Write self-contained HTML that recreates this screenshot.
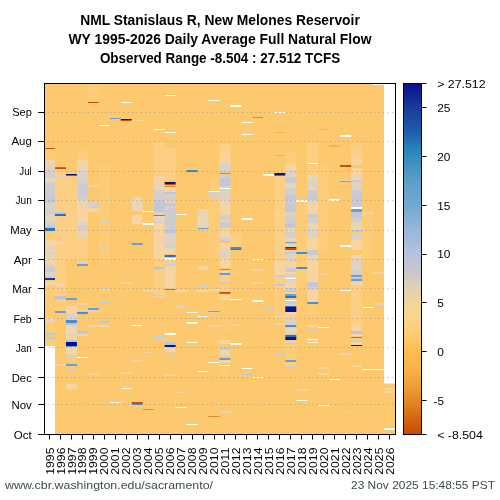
<!DOCTYPE html><html><head><meta charset="utf-8"><style>html,body{margin:0;padding:0;background:#fff;}svg{display:block;will-change:transform;}text{font-family:"Liberation Sans",sans-serif;}</style></head><body>
<svg width="500" height="500" viewBox="0 0 500 500">
<defs><linearGradient id="cb" x1="0" y1="0" x2="0" y2="1"><stop offset="0.0000" stop-color="#0a0f8c"/><stop offset="0.0670" stop-color="#1a3a9a"/><stop offset="0.1325" stop-color="#1e5aa8"/><stop offset="0.1952" stop-color="#2a88bc"/><stop offset="0.2749" stop-color="#5a9ec8"/><stop offset="0.3462" stop-color="#72a8d0"/><stop offset="0.4174" stop-color="#98b6d8"/><stop offset="0.4801" stop-color="#b2c2e0"/><stop offset="0.5313" stop-color="#c8c6cc"/><stop offset="0.5741" stop-color="#dccfb8"/><stop offset="0.6225" stop-color="#f3d49a"/><stop offset="0.6681" stop-color="#fcd48e"/><stop offset="0.7080" stop-color="#fdcd78"/><stop offset="0.7593" stop-color="#fdbe50"/><stop offset="0.8162" stop-color="#f9b244"/><stop offset="0.8590" stop-color="#f0a038"/><stop offset="0.9017" stop-color="#e48a26"/><stop offset="0.9359" stop-color="#da7218"/><stop offset="0.9729" stop-color="#cf5a0a"/><stop offset="1.0000" stop-color="#c64a04"/></linearGradient></defs>
<rect width="500" height="500" fill="#fff"/>
<text x="220" y="25" text-anchor="middle" font-size="14" font-weight="bold" fill="#000" textLength="279.6" lengthAdjust="spacingAndGlyphs">NML Stanislaus R, New Melones Reservoir</text>
<text x="220" y="44" text-anchor="middle" font-size="14" font-weight="bold" fill="#000" textLength="303" lengthAdjust="spacingAndGlyphs">WY 1995-2026 Daily Average Full Natural Flow</text>
<text x="220" y="63" text-anchor="middle" font-size="14" font-weight="bold" fill="#000" textLength="240.2" lengthAdjust="spacingAndGlyphs">Observed Range -8.504 : 27.512 TCFS</text>
<rect x="44.0" y="83.5" width="351.0" height="351.0" fill="#fdc96f"/>
<rect x="44.00" y="148" width="10.97" height="12.00" fill="url(#g0)"/>
<rect x="44.00" y="160" width="10.97" height="10.00" fill="url(#g1)"/>
<rect x="44.00" y="170" width="10.97" height="15.00" fill="#d3cfcb"/>
<rect x="44.00" y="178" width="10.97" height="4.00" fill="#ead5b4"/>
<rect x="44.00" y="185" width="10.97" height="12.00" fill="#cccbd2"/>
<rect x="44.00" y="197" width="10.97" height="6.00" fill="#c2c8da"/>
<rect x="44.00" y="203" width="10.97" height="5.00" fill="#ddd2c4"/>
<rect x="44.00" y="208" width="10.97" height="7.00" fill="#d3cfcb"/>
<rect x="44.00" y="215" width="10.97" height="7.00" fill="#ead5b4"/>
<rect x="44.00" y="222" width="10.97" height="4.00" fill="#d3cfcb"/>
<rect x="44.00" y="226" width="10.97" height="2.50" fill="#b6c6de"/>
<rect x="44.00" y="231.5" width="10.97" height="8.50" fill="#fccc78"/>
<rect x="44.00" y="240" width="10.97" height="6.00" fill="#f8d5a0"/>
<rect x="44.00" y="246" width="10.97" height="4.00" fill="#ddd2c4"/>
<rect x="44.00" y="250" width="10.97" height="2.00" fill="#f8d5a0"/>
<rect x="44.00" y="252" width="10.97" height="3.00" fill="#ddd2c4"/>
<rect x="44.00" y="255" width="10.97" height="7.00" fill="#ead5b4"/>
<rect x="44.00" y="262" width="10.97" height="3.00" fill="#f8d5a0"/>
<rect x="44.00" y="265" width="10.97" height="3.00" fill="#d3cfcb"/>
<rect x="44.00" y="268" width="10.97" height="4.00" fill="#cccbd2"/>
<rect x="44.00" y="272" width="10.97" height="4.00" fill="#ddd2c4"/>
<rect x="44.00" y="276" width="10.97" height="2.50" fill="#d3cfcb"/>
<rect x="44.00" y="281" width="10.97" height="4.00" fill="#f8d5a0"/>
<rect x="44.00" y="285" width="10.97" height="15.00" fill="#fccc78"/>
<rect x="44.00" y="318" width="10.97" height="4.00" fill="#ead5b4"/>
<rect x="44.00" y="322" width="10.97" height="11.00" fill="#fccc78"/>
<rect x="44.00" y="339" width="10.97" height="7.00" fill="#fccc78"/>
<rect x="54.97" y="170" width="10.97" height="42.00" fill="#fccf84"/>
<rect x="54.97" y="216" width="10.97" height="80.00" fill="#fccf84"/>
<rect x="54.97" y="300" width="10.97" height="11.00" fill="#fccc78"/>
<rect x="65.94" y="177" width="10.97" height="83.00" fill="#fccf84"/>
<rect x="65.94" y="306" width="10.97" height="8.00" fill="#f8d5a0"/>
<rect x="65.94" y="314" width="10.97" height="6.00" fill="#ddd2c4"/>
<rect x="65.94" y="325" width="10.97" height="5.00" fill="#ead5b4"/>
<rect x="65.94" y="330" width="10.97" height="10.00" fill="#f8d5a0"/>
<rect x="65.94" y="347" width="10.97" height="8.00" fill="#f8d5a0"/>
<rect x="65.94" y="355" width="10.97" height="7.00" fill="#fccc78"/>
<rect x="65.94" y="384" width="10.97" height="5.00" fill="#f8d5a0"/>
<rect x="76.91" y="150" width="10.97" height="10.00" fill="url(#g2)"/>
<rect x="76.91" y="160" width="10.97" height="10.00" fill="url(#g3)"/>
<rect x="76.91" y="170" width="10.97" height="10.00" fill="#ddd2c4"/>
<rect x="76.91" y="180" width="10.97" height="5.00" fill="#d3cfcb"/>
<rect x="76.91" y="185" width="10.97" height="10.00" fill="#cccbd2"/>
<rect x="76.91" y="195" width="10.97" height="5.00" fill="#d3cfcb"/>
<rect x="76.91" y="200" width="10.97" height="5.00" fill="#ead5b4"/>
<rect x="76.91" y="205" width="10.97" height="17.00" fill="#f8d5a0"/>
<rect x="76.91" y="222" width="10.97" height="4.00" fill="#ddd2c4"/>
<rect x="76.91" y="226" width="10.97" height="4.00" fill="#d3cfcb"/>
<rect x="76.91" y="230" width="10.97" height="6.00" fill="#ead5b4"/>
<rect x="76.91" y="236" width="10.97" height="2.00" fill="#ddd2c4"/>
<rect x="76.91" y="238" width="10.97" height="24.00" fill="#fccf84"/>
<rect x="87.88" y="84" width="10.97" height="16.00" fill="#fccc78"/>
<rect x="98.84" y="165" width="10.97" height="95.00" fill="#fccc78"/>
<rect x="131.75" y="197" width="10.97" height="14.00" fill="#ead5b4"/>
<rect x="131.75" y="215" width="10.97" height="9.00" fill="#f8d5a0"/>
<rect x="153.69" y="143" width="10.97" height="32.00" fill="#fccf84"/>
<rect x="153.69" y="176" width="10.97" height="7.00" fill="#f8d5a0"/>
<rect x="153.69" y="183" width="10.97" height="7.00" fill="#ead5b4"/>
<rect x="153.69" y="190" width="10.97" height="10.00" fill="#d3cfcb"/>
<rect x="153.69" y="200" width="10.97" height="12.00" fill="#c2c8da"/>
<rect x="153.69" y="212" width="10.97" height="3.00" fill="#ddd2c4"/>
<rect x="153.69" y="216" width="10.97" height="6.00" fill="#ead5b4"/>
<rect x="153.69" y="223" width="10.97" height="17.00" fill="#f8d5a0"/>
<rect x="153.69" y="242" width="10.97" height="18.00" fill="#f8d5a0"/>
<rect x="153.69" y="262" width="10.97" height="4.00" fill="#fccf84"/>
<rect x="153.69" y="269" width="10.97" height="26.00" fill="#fccf84"/>
<rect x="153.69" y="336" width="10.97" height="3.50" fill="#d3cfcb"/>
<rect x="164.66" y="148" width="10.97" height="32.00" fill="#fccf84"/>
<rect x="164.66" y="187" width="10.97" height="5.00" fill="#f8d5a0"/>
<rect x="164.66" y="192" width="10.97" height="8.00" fill="#d3cfcb"/>
<rect x="164.66" y="200" width="10.97" height="3.00" fill="#ddd2c4"/>
<rect x="164.66" y="203" width="10.97" height="3.00" fill="#c2c8da"/>
<rect x="164.66" y="206" width="10.97" height="3.00" fill="#d3cfcb"/>
<rect x="164.66" y="209" width="10.97" height="21.00" fill="#cccbd2"/>
<rect x="164.66" y="230" width="10.97" height="3.00" fill="#b6c6de"/>
<rect x="164.66" y="233" width="10.97" height="11.00" fill="#ddd2c4"/>
<rect x="164.66" y="244" width="10.97" height="3.00" fill="#d3cfcb"/>
<rect x="164.66" y="248" width="10.97" height="6.00" fill="#ead5b4"/>
<rect x="164.66" y="257" width="10.97" height="1.00" fill="#d3cfcb"/>
<rect x="164.66" y="261" width="10.97" height="4.00" fill="#ddd2c4"/>
<rect x="164.66" y="266" width="10.97" height="23.00" fill="#f8d5a0"/>
<rect x="164.66" y="342" width="10.97" height="3.00" fill="#b6c6de"/>
<rect x="164.66" y="347" width="10.97" height="5.00" fill="#f8d5a0"/>
<rect x="197.56" y="209" width="10.97" height="19.00" fill="#ead5b4"/>
<rect x="197.56" y="266" width="10.97" height="4.00" fill="#f8d5a0"/>
<rect x="208.53" y="180" width="10.97" height="10.00" fill="#fccc78"/>
<rect x="208.53" y="198" width="10.97" height="62.00" fill="#fccc78"/>
<rect x="219.50" y="144" width="10.97" height="19.00" fill="url(#g4)"/>
<rect x="219.50" y="163" width="10.97" height="7.00" fill="#ddd2c4"/>
<rect x="219.50" y="170" width="10.97" height="3.00" fill="#d3cfcb"/>
<rect x="219.50" y="175" width="10.97" height="3.00" fill="#d3cfcb"/>
<rect x="219.50" y="178" width="10.97" height="8.00" fill="#c2c8da"/>
<rect x="219.50" y="186" width="10.97" height="2.00" fill="#d3cfcb"/>
<rect x="219.50" y="190" width="10.97" height="10.00" fill="#ddd2c4"/>
<rect x="219.50" y="200" width="10.97" height="6.00" fill="#ead5b4"/>
<rect x="219.50" y="206" width="10.97" height="9.00" fill="#f8d5a0"/>
<rect x="219.50" y="215" width="10.97" height="5.00" fill="#d3cfcb"/>
<rect x="219.50" y="220" width="10.97" height="2.00" fill="#ead5b4"/>
<rect x="219.50" y="222" width="10.97" height="6.00" fill="#cccbd2"/>
<rect x="219.50" y="228" width="10.97" height="7.00" fill="#f8d5a0"/>
<rect x="219.50" y="235" width="10.97" height="3.00" fill="#ead5b4"/>
<rect x="219.50" y="238" width="10.97" height="3.00" fill="#d3cfcb"/>
<rect x="219.50" y="243" width="10.97" height="7.00" fill="#f8d5a0"/>
<rect x="219.50" y="250" width="10.97" height="8.00" fill="#ddd2c4"/>
<rect x="219.50" y="258" width="10.97" height="10.00" fill="#f8d5a0"/>
<rect x="219.50" y="271" width="10.97" height="2.00" fill="#ead5b4"/>
<rect x="219.50" y="275" width="10.97" height="7.00" fill="#fccf84"/>
<rect x="219.50" y="285" width="10.97" height="6.00" fill="#fccf84"/>
<rect x="219.50" y="295" width="10.97" height="5.00" fill="#f8d5a0"/>
<rect x="219.50" y="320" width="10.97" height="10.00" fill="#fccc78"/>
<rect x="219.50" y="340" width="10.97" height="4.00" fill="#f8d5a0"/>
<rect x="219.50" y="350" width="10.97" height="6.00" fill="#ead5b4"/>
<rect x="219.50" y="360" width="10.97" height="3.00" fill="#f8d5a0"/>
<rect x="219.50" y="367" width="10.97" height="8.00" fill="#fccc78"/>
<rect x="230.47" y="235" width="10.97" height="12.00" fill="#fccf84"/>
<rect x="274.34" y="176" width="10.97" height="86.00" fill="#fccf84"/>
<rect x="274.34" y="263" width="10.97" height="12.00" fill="#f8d5a0"/>
<rect x="274.34" y="277" width="10.97" height="7.00" fill="#fccf84"/>
<rect x="274.34" y="286" width="10.97" height="4.00" fill="#fccf84"/>
<rect x="274.34" y="290" width="10.97" height="30.00" fill="#fccc78"/>
<rect x="285.31" y="152" width="10.97" height="13.00" fill="url(#g5)"/>
<rect x="285.31" y="165" width="10.97" height="5.00" fill="#f8d5a0"/>
<rect x="285.31" y="170" width="10.97" height="7.00" fill="#ddd2c4"/>
<rect x="285.31" y="177" width="10.97" height="6.00" fill="#cccbd2"/>
<rect x="285.31" y="183" width="10.97" height="5.00" fill="#ead5b4"/>
<rect x="285.31" y="188" width="10.97" height="7.00" fill="#d3cfcb"/>
<rect x="285.31" y="195" width="10.97" height="5.00" fill="#c2c8da"/>
<rect x="285.31" y="200" width="10.97" height="5.00" fill="#cccbd2"/>
<rect x="285.31" y="205" width="10.97" height="7.00" fill="#c2c8da"/>
<rect x="285.31" y="212" width="10.97" height="3.00" fill="#ddd2c4"/>
<rect x="285.31" y="215" width="10.97" height="5.00" fill="#d3cfcb"/>
<rect x="285.31" y="220" width="10.97" height="4.00" fill="#cccbd2"/>
<rect x="285.31" y="224" width="10.97" height="4.00" fill="#c2c8da"/>
<rect x="285.31" y="228" width="10.97" height="4.00" fill="#ead5b4"/>
<rect x="285.31" y="232" width="10.97" height="6.00" fill="#d3cfcb"/>
<rect x="285.31" y="238" width="10.97" height="4.00" fill="#ead5b4"/>
<rect x="285.31" y="244" width="10.97" height="3.00" fill="#ead5b4"/>
<rect x="285.31" y="250" width="10.97" height="2.00" fill="#f8d5a0"/>
<rect x="285.31" y="254" width="10.97" height="8.00" fill="#ddd2c4"/>
<rect x="285.31" y="262" width="10.97" height="6.00" fill="#f8d5a0"/>
<rect x="285.31" y="268" width="10.97" height="3.00" fill="#cccbd2"/>
<rect x="285.31" y="272" width="10.97" height="2.00" fill="#f8d5a0"/>
<rect x="285.31" y="274" width="10.97" height="2.00" fill="#d3cfcb"/>
<rect x="285.31" y="276" width="10.97" height="2.00" fill="#ead5b4"/>
<rect x="285.31" y="280" width="10.97" height="3.00" fill="#ddd2c4"/>
<rect x="285.31" y="283" width="10.97" height="5.00" fill="#f8d5a0"/>
<rect x="285.31" y="288" width="10.97" height="4.00" fill="#cccbd2"/>
<rect x="285.31" y="292" width="10.97" height="2.00" fill="#f8d5a0"/>
<rect x="285.31" y="302" width="10.97" height="2.00" fill="#cccbd2"/>
<rect x="285.31" y="304" width="10.97" height="2.00" fill="#ddd2c4"/>
<rect x="285.31" y="312" width="10.97" height="3.00" fill="#f8d5a0"/>
<rect x="285.31" y="315" width="10.97" height="3.00" fill="#fccf84"/>
<rect x="285.31" y="318" width="10.97" height="5.00" fill="#ddd2c4"/>
<rect x="285.31" y="323" width="10.97" height="4.00" fill="#d3cfcb"/>
<rect x="285.31" y="328" width="10.97" height="5.00" fill="#ead5b4"/>
<rect x="285.31" y="333" width="10.97" height="2.00" fill="#d3cfcb"/>
<rect x="285.31" y="341" width="10.97" height="2.00" fill="#f8d5a0"/>
<rect x="285.31" y="344" width="10.97" height="16.00" fill="#fccc78"/>
<rect x="285.31" y="362" width="10.97" height="3.00" fill="#fccf84"/>
<rect x="296.28" y="201" width="10.97" height="89.00" fill="#fccc78"/>
<rect x="307.25" y="143" width="10.97" height="20.00" fill="#fccf84"/>
<rect x="307.25" y="165" width="10.97" height="10.00" fill="#fccf84"/>
<rect x="307.25" y="175" width="10.97" height="5.00" fill="#ead5b4"/>
<rect x="307.25" y="180" width="10.97" height="8.00" fill="#ddd2c4"/>
<rect x="307.25" y="188" width="10.97" height="2.00" fill="#f8d5a0"/>
<rect x="307.25" y="190" width="10.97" height="5.00" fill="#cccbd2"/>
<rect x="307.25" y="195" width="10.97" height="5.00" fill="#c2c8da"/>
<rect x="307.25" y="200" width="10.97" height="5.00" fill="#ead5b4"/>
<rect x="307.25" y="205" width="10.97" height="9.00" fill="#f8d5a0"/>
<rect x="307.25" y="214" width="10.97" height="4.00" fill="#cccbd2"/>
<rect x="307.25" y="218" width="10.97" height="5.00" fill="#d3cfcb"/>
<rect x="307.25" y="223" width="10.97" height="5.00" fill="#ead5b4"/>
<rect x="307.25" y="228" width="10.97" height="10.00" fill="#ddd2c4"/>
<rect x="307.25" y="238" width="10.97" height="12.00" fill="#f8d5a0"/>
<rect x="307.25" y="250" width="10.97" height="5.00" fill="#cccbd2"/>
<rect x="307.25" y="255" width="10.97" height="3.00" fill="#ead5b4"/>
<rect x="307.25" y="260" width="10.97" height="22.00" fill="#f8d5a0"/>
<rect x="307.25" y="282" width="10.97" height="5.00" fill="#c2c8da"/>
<rect x="307.25" y="287" width="10.97" height="3.00" fill="#d3cfcb"/>
<rect x="307.25" y="290" width="10.97" height="13.00" fill="#f8d5a0"/>
<rect x="307.25" y="305" width="10.97" height="10.00" fill="#fccc78"/>
<rect x="318.22" y="165" width="10.97" height="88.00" fill="#fccc78"/>
<rect x="351.12" y="143" width="10.97" height="22.00" fill="url(#g6)"/>
<rect x="351.12" y="168" width="10.97" height="7.00" fill="#f8d5a0"/>
<rect x="351.12" y="175" width="10.97" height="7.00" fill="#ead5b4"/>
<rect x="351.12" y="182" width="10.97" height="8.00" fill="#ddd2c4"/>
<rect x="351.12" y="190" width="10.97" height="5.00" fill="#cccbd2"/>
<rect x="351.12" y="195" width="10.97" height="5.00" fill="#c2c8da"/>
<rect x="351.12" y="200" width="10.97" height="6.00" fill="#cccbd2"/>
<rect x="351.12" y="206" width="10.97" height="1.30" fill="#c2c8da"/>
<rect x="351.12" y="212" width="10.97" height="6.00" fill="#c2c8da"/>
<rect x="351.12" y="218" width="10.97" height="4.00" fill="#d3cfcb"/>
<rect x="351.12" y="222" width="10.97" height="8.00" fill="#ead5b4"/>
<rect x="351.12" y="233" width="10.97" height="3.00" fill="#d3cfcb"/>
<rect x="351.12" y="236" width="10.97" height="4.00" fill="#ddd2c4"/>
<rect x="351.12" y="240" width="10.97" height="10.00" fill="#f8d5a0"/>
<rect x="351.12" y="255" width="10.97" height="3.00" fill="#f8d5a0"/>
<rect x="351.12" y="258" width="10.97" height="12.00" fill="#ddd2c4"/>
<rect x="351.12" y="270" width="10.97" height="5.00" fill="#d3cfcb"/>
<rect x="351.12" y="282" width="10.97" height="3.00" fill="#f8d5a0"/>
<rect x="351.12" y="285" width="10.97" height="40.00" fill="#fccf84"/>
<rect x="351.12" y="325" width="10.97" height="6.00" fill="#f8d5a0"/>
<rect x="351.12" y="334" width="10.97" height="2.00" fill="#f8d5a0"/>
<rect x="351.12" y="339" width="10.97" height="1.50" fill="#f8d5a0"/>
<rect x="351.12" y="342" width="10.97" height="3.00" fill="#f8d5a0"/>
<rect x="362.09" y="210" width="10.97" height="18.00" fill="#fccc78"/>
<rect x="362.09" y="228" width="10.97" height="32.00" fill="#fccc78"/>
<defs><linearGradient id="g0" x1="0" y1="0" x2="0" y2="1"><stop offset="0" stop-color="#fdca70"/><stop offset="1" stop-color="#fccc78"/></linearGradient><linearGradient id="g1" x1="0" y1="0" x2="0" y2="1"><stop offset="0" stop-color="#f8d5a0"/><stop offset="1" stop-color="#ddd2c4"/></linearGradient><linearGradient id="g2" x1="0" y1="0" x2="0" y2="1"><stop offset="0" stop-color="#fccc78"/><stop offset="1" stop-color="#fccf84"/></linearGradient><linearGradient id="g3" x1="0" y1="0" x2="0" y2="1"><stop offset="0" stop-color="#f8d5a0"/><stop offset="1" stop-color="#ead5b4"/></linearGradient><linearGradient id="g4" x1="0" y1="0" x2="0" y2="1"><stop offset="0" stop-color="#fccf84"/><stop offset="1" stop-color="#f8d5a0"/></linearGradient><linearGradient id="g5" x1="0" y1="0" x2="0" y2="1"><stop offset="0" stop-color="#fccc78"/><stop offset="1" stop-color="#fccf84"/></linearGradient><linearGradient id="g6" x1="0" y1="0" x2="0" y2="1"><stop offset="0" stop-color="#fccc78"/><stop offset="1" stop-color="#f8d5a0"/></linearGradient></defs>
<rect x="44.00" y="148" width="10.97" height="1" fill="#c84e0e"/>
<rect x="44.00" y="228" width="10.97" height="3" fill="#2a70bc"/>
<rect x="44.00" y="227" width="10.97" height="1" fill="#b6c6de"/>
<rect x="44.00" y="278" width="10.97" height="2" fill="#1a3a9a"/>
<rect x="44.00" y="333" width="10.97" height="2" fill="#b6c6de"/>
<rect x="44.00" y="337" width="10.97" height="2" fill="#c2c8da"/>
<rect x="54.97" y="167" width="10.97" height="1" fill="#4a8ccc"/>
<rect x="54.97" y="168" width="10.97" height="1" fill="#c84e0e"/>
<rect x="54.97" y="176" width="10.97" height="1" fill="#ddd2c4"/>
<rect x="54.97" y="212" width="10.97" height="2" fill="#b6c6de"/>
<rect x="54.97" y="214" width="10.97" height="2" fill="#2a70bc"/>
<rect x="54.97" y="242" width="10.97" height="2" fill="#ead5b4"/>
<rect x="54.97" y="284" width="10.97" height="2" fill="#ead5b4"/>
<rect x="54.97" y="296" width="10.97" height="3" fill="#b6c6de"/>
<rect x="54.97" y="311" width="10.97" height="2" fill="#6a9ed8"/>
<rect x="54.97" y="364" width="10.97" height="2" fill="#f8d5a0"/>
<rect x="65.94" y="174" width="10.97" height="1" fill="#08128a"/>
<rect x="65.94" y="175" width="10.97" height="1" fill="#c84e0e"/>
<rect x="65.94" y="298" width="10.97" height="2" fill="#6a9ed8"/>
<rect x="65.94" y="320" width="10.97" height="3" fill="#4a8ccc"/>
<rect x="65.94" y="323" width="10.97" height="2" fill="#b6c6de"/>
<rect x="65.94" y="334" width="10.97" height="2" fill="#ddd2c4"/>
<rect x="65.94" y="340" width="10.97" height="2" fill="#b6c6de"/>
<rect x="65.94" y="342" width="10.97" height="4" fill="#08128a"/>
<rect x="65.94" y="346" width="10.97" height="1" fill="#6a9ed8"/>
<rect x="65.94" y="355" width="10.97" height="2" fill="#d3cfcb"/>
<rect x="65.94" y="364" width="10.97" height="2" fill="#6a9ed8"/>
<rect x="65.94" y="370" width="10.97" height="2" fill="#d3cfcb"/>
<rect x="76.91" y="262" width="10.97" height="2" fill="#ddd2c4"/>
<rect x="76.91" y="264" width="10.97" height="2" fill="#6a9ed8"/>
<rect x="76.91" y="303" width="10.97" height="2" fill="#ead5b4"/>
<rect x="76.91" y="309" width="10.97" height="2" fill="#ddd2c4"/>
<rect x="76.91" y="312" width="10.97" height="2" fill="#4a8ccc"/>
<rect x="76.91" y="331" width="10.97" height="2" fill="#b6c6de"/>
<rect x="76.91" y="334" width="10.97" height="2" fill="#ead5b4"/>
<rect x="76.91" y="357" width="10.97" height="1" fill="#ffffff"/>
<rect x="87.88" y="102" width="10.97" height="1" fill="#c84e0e"/>
<rect x="87.88" y="185" width="10.97" height="2" fill="#ead5b4"/>
<rect x="87.88" y="202" width="10.97" height="5" fill="#d3cfcb"/>
<rect x="87.88" y="208" width="10.97" height="4" fill="#f8d5a0"/>
<rect x="87.88" y="308" width="10.97" height="2" fill="#6a9ed8"/>
<rect x="87.88" y="310" width="10.97" height="2" fill="#ddd2c4"/>
<rect x="87.88" y="325" width="10.97" height="2" fill="#ead5b4"/>
<rect x="87.88" y="373" width="10.97" height="2" fill="#f8d5a0"/>
<rect x="98.84" y="125" width="10.97" height="1" fill="#ffffff"/>
<rect x="98.84" y="222" width="10.97" height="1" fill="#cccbd2"/>
<rect x="98.84" y="246" width="10.97" height="2" fill="#ddd2c4"/>
<rect x="98.84" y="288" width="10.97" height="2" fill="#ddd2c4"/>
<rect x="98.84" y="302" width="10.97" height="1" fill="#b6c6de"/>
<rect x="98.84" y="321" width="10.97" height="2" fill="#c2c8da"/>
<rect x="98.84" y="325" width="10.97" height="2" fill="#f8d5a0"/>
<rect x="109.81" y="118" width="10.97" height="1" fill="#6a9ed8"/>
<rect x="109.81" y="402" width="10.97" height="1" fill="#ffffff"/>
<rect x="120.78" y="102" width="10.97" height="1" fill="#ffffff"/>
<rect x="120.78" y="119" width="10.97" height="1" fill="#08128a"/>
<rect x="120.78" y="120" width="10.97" height="1" fill="#c84e0e"/>
<rect x="120.78" y="282" width="10.97" height="2" fill="#f8d5a0"/>
<rect x="120.78" y="372" width="10.97" height="2" fill="#f8d5a0"/>
<rect x="120.78" y="388" width="10.97" height="1" fill="#ffffff"/>
<rect x="131.75" y="120" width="10.97" height="1" fill="#f8d5a0"/>
<rect x="131.75" y="243" width="10.97" height="2" fill="#6a9ed8"/>
<rect x="131.75" y="325" width="10.97" height="1" fill="#ffffff"/>
<rect x="131.75" y="360" width="10.97" height="2" fill="#f8d5a0"/>
<rect x="131.75" y="402" width="10.97" height="2" fill="#c84e0e"/>
<rect x="131.75" y="404" width="10.97" height="1" fill="#4a8ccc"/>
<rect x="142.72" y="211" width="10.97" height="1" fill="#ffffff"/>
<rect x="142.72" y="223" width="10.97" height="2" fill="#ffffff"/>
<rect x="142.72" y="290" width="10.97" height="2" fill="#ead5b4"/>
<rect x="142.72" y="352" width="10.97" height="1" fill="#f8d5a0"/>
<rect x="142.72" y="409" width="10.97" height="1" fill="#e08a30"/>
<rect x="153.69" y="129" width="10.97" height="1" fill="#ffffff"/>
<rect x="153.69" y="175" width="10.97" height="1" fill="#ddd2c4"/>
<rect x="153.69" y="215" width="10.97" height="1" fill="#4a8ccc"/>
<rect x="153.69" y="222" width="10.97" height="1" fill="#cccbd2"/>
<rect x="153.69" y="240" width="10.97" height="2" fill="#ead5b4"/>
<rect x="153.69" y="261" width="10.97" height="1" fill="#ddd2c4"/>
<rect x="153.69" y="267" width="10.97" height="2" fill="#b6c6de"/>
<rect x="153.69" y="296" width="10.97" height="1" fill="#ead5b4"/>
<rect x="164.66" y="95" width="10.97" height="1" fill="#ffffff"/>
<rect x="164.66" y="132" width="10.97" height="1" fill="#ffffff"/>
<rect x="164.66" y="182" width="10.97" height="2" fill="#08128a"/>
<rect x="164.66" y="184" width="10.97" height="1" fill="#c84e0e"/>
<rect x="164.66" y="186" width="10.97" height="1" fill="#e08a30"/>
<rect x="164.66" y="192" width="10.97" height="2" fill="#b6c6de"/>
<rect x="164.66" y="255" width="10.97" height="2" fill="#2a70bc"/>
<rect x="164.66" y="258" width="10.97" height="2" fill="#ffffff"/>
<rect x="164.66" y="264" width="10.97" height="2" fill="#d3cfcb"/>
<rect x="164.66" y="289" width="10.97" height="1" fill="#4a8ccc"/>
<rect x="164.66" y="333" width="10.97" height="2" fill="#ffffff"/>
<rect x="164.66" y="345" width="10.97" height="2" fill="#08128a"/>
<rect x="164.66" y="354" width="10.97" height="2" fill="#d3cfcb"/>
<rect x="164.66" y="374" width="10.97" height="2" fill="#f8d5a0"/>
<rect x="175.62" y="214" width="10.97" height="1" fill="#ffffff"/>
<rect x="175.62" y="290" width="10.97" height="2" fill="#f8d5a0"/>
<rect x="175.62" y="306" width="10.97" height="2" fill="#ddd2c4"/>
<rect x="175.62" y="392" width="10.97" height="1" fill="#f8d5a0"/>
<rect x="175.62" y="407" width="10.97" height="1" fill="#ffffff"/>
<rect x="186.59" y="170" width="10.97" height="1" fill="#4a8ccc"/>
<rect x="186.59" y="171" width="10.97" height="1" fill="#c84e0e"/>
<rect x="186.59" y="312" width="10.97" height="1" fill="#ffffff"/>
<rect x="186.59" y="322" width="10.97" height="2" fill="#ffffff"/>
<rect x="186.59" y="342" width="10.97" height="1" fill="#ffffff"/>
<rect x="186.59" y="424" width="10.97" height="1" fill="#ffffff"/>
<rect x="197.56" y="228" width="10.97" height="1" fill="#6a9ed8"/>
<rect x="197.56" y="286" width="10.97" height="1" fill="#cccbd2"/>
<rect x="197.56" y="290" width="10.97" height="2" fill="#f8d5a0"/>
<rect x="197.56" y="316" width="10.97" height="1" fill="#ffffff"/>
<rect x="197.56" y="371" width="10.97" height="1" fill="#ffffff"/>
<rect x="208.53" y="100" width="10.97" height="1" fill="#ffffff"/>
<rect x="208.53" y="191" width="10.97" height="1" fill="#ffffff"/>
<rect x="208.53" y="192" width="10.97" height="6" fill="#d3cfcb"/>
<rect x="208.53" y="289" width="10.97" height="2" fill="#ead5b4"/>
<rect x="208.53" y="311" width="10.97" height="1" fill="#e08a30"/>
<rect x="208.53" y="312" width="10.97" height="1" fill="#ddd2c4"/>
<rect x="208.53" y="325" width="10.97" height="2" fill="#f8d5a0"/>
<rect x="208.53" y="362" width="10.97" height="1" fill="#ffffff"/>
<rect x="208.53" y="416" width="10.97" height="1" fill="#e08a30"/>
<rect x="219.50" y="173" width="10.97" height="1" fill="#6a9ed8"/>
<rect x="219.50" y="188" width="10.97" height="1" fill="#ffffff"/>
<rect x="219.50" y="241" width="10.97" height="1" fill="#b6c6de"/>
<rect x="219.50" y="269" width="10.97" height="1" fill="#6a9ed8"/>
<rect x="219.50" y="273" width="10.97" height="2" fill="#6a9ed8"/>
<rect x="219.50" y="282" width="10.97" height="2" fill="#cccbd2"/>
<rect x="219.50" y="292" width="10.97" height="1" fill="#c84e0e"/>
<rect x="219.50" y="293" width="10.97" height="1" fill="#4a8ccc"/>
<rect x="219.50" y="348" width="10.97" height="1" fill="#b6c6de"/>
<rect x="219.50" y="358" width="10.97" height="2" fill="#6a9ed8"/>
<rect x="219.50" y="365" width="10.97" height="1" fill="#ffffff"/>
<rect x="219.50" y="411" width="10.97" height="2" fill="#ddd2c4"/>
<rect x="230.47" y="105" width="10.97" height="2" fill="#ffffff"/>
<rect x="230.47" y="233" width="10.97" height="1" fill="#ddd2c4"/>
<rect x="230.47" y="247" width="10.97" height="2" fill="#4a8ccc"/>
<rect x="230.47" y="249" width="10.97" height="1" fill="#c84e0e"/>
<rect x="230.47" y="273" width="10.97" height="1" fill="#ddd2c4"/>
<rect x="230.47" y="299" width="10.97" height="1" fill="#ffffff"/>
<rect x="230.47" y="324" width="10.97" height="2" fill="#f8d5a0"/>
<rect x="230.47" y="343" width="10.97" height="2" fill="#ffffff"/>
<rect x="241.44" y="122" width="10.97" height="1" fill="#ffffff"/>
<rect x="241.44" y="134" width="10.97" height="1" fill="#ffffff"/>
<rect x="241.44" y="218" width="10.97" height="2" fill="#ffffff"/>
<rect x="241.44" y="368" width="10.97" height="1" fill="#ffffff"/>
<rect x="241.44" y="374" width="10.97" height="1" fill="#b6c6de"/>
<rect x="252.41" y="117" width="10.97" height="1" fill="#e08a30"/>
<rect x="252.41" y="259" width="10.97" height="1" fill="#ffffff"/>
<rect x="252.41" y="269" width="10.97" height="2" fill="#f8d5a0"/>
<rect x="252.41" y="282" width="10.97" height="2" fill="#f8d5a0"/>
<rect x="252.41" y="300" width="10.97" height="2" fill="#ffffff"/>
<rect x="252.41" y="377" width="10.97" height="1" fill="#ffffff"/>
<rect x="263.38" y="90" width="10.97" height="2" fill="#fccc78"/>
<rect x="263.38" y="174" width="10.97" height="2" fill="#ffffff"/>
<rect x="263.38" y="308" width="10.97" height="1" fill="#cccbd2"/>
<rect x="274.34" y="112" width="10.97" height="1" fill="#ffffff"/>
<rect x="274.34" y="132" width="10.97" height="1" fill="#f2b454"/>
<rect x="274.34" y="155" width="10.97" height="1" fill="#f2b454"/>
<rect x="274.34" y="173" width="10.97" height="2" fill="#08128a"/>
<rect x="274.34" y="175" width="10.97" height="1" fill="#c84e0e"/>
<rect x="274.34" y="214" width="10.97" height="2" fill="#f8d5a0"/>
<rect x="274.34" y="250" width="10.97" height="2" fill="#ead5b4"/>
<rect x="274.34" y="261" width="10.97" height="2" fill="#ead5b4"/>
<rect x="274.34" y="275" width="10.97" height="2" fill="#cccbd2"/>
<rect x="274.34" y="284" width="10.97" height="1" fill="#b6c6de"/>
<rect x="274.34" y="316" width="10.97" height="2" fill="#ead5b4"/>
<rect x="274.34" y="323" width="10.97" height="2" fill="#f8d5a0"/>
<rect x="274.34" y="354" width="10.97" height="2" fill="#cccbd2"/>
<rect x="285.31" y="242" width="10.97" height="1" fill="#6a9ed8"/>
<rect x="285.31" y="247" width="10.97" height="2" fill="#1a3a9a"/>
<rect x="285.31" y="248" width="10.97" height="2" fill="#c84e0e"/>
<rect x="285.31" y="252" width="10.97" height="1" fill="#b6c6de"/>
<rect x="285.31" y="278" width="10.97" height="1" fill="#ffffff"/>
<rect x="285.31" y="294" width="10.97" height="2" fill="#6a9ed8"/>
<rect x="285.31" y="296" width="10.97" height="2" fill="#2a70bc"/>
<rect x="285.31" y="300" width="10.97" height="1" fill="#ffffff"/>
<rect x="285.31" y="306" width="10.97" height="1" fill="#2a70bc"/>
<rect x="285.31" y="307" width="10.97" height="5" fill="#08128a"/>
<rect x="285.31" y="325" width="10.97" height="2" fill="#4a8ccc"/>
<rect x="285.31" y="335" width="10.97" height="2" fill="#2a70bc"/>
<rect x="285.31" y="337" width="10.97" height="3" fill="#08128a"/>
<rect x="285.31" y="342" width="10.97" height="1" fill="#d3cfcb"/>
<rect x="285.31" y="360" width="10.97" height="2" fill="#6a9ed8"/>
<rect x="285.31" y="365" width="10.97" height="2" fill="#d3cfcb"/>
<rect x="296.28" y="200" width="10.97" height="2" fill="#ffffff"/>
<rect x="296.28" y="252" width="10.97" height="2" fill="#4a8ccc"/>
<rect x="296.28" y="267" width="10.97" height="2" fill="#4a8ccc"/>
<rect x="296.28" y="389" width="10.97" height="2" fill="#f8d5a0"/>
<rect x="296.28" y="400" width="10.97" height="1" fill="#ffffff"/>
<rect x="307.25" y="163" width="10.97" height="1" fill="#ffffff"/>
<rect x="307.25" y="258" width="10.97" height="2" fill="#ddd2c4"/>
<rect x="307.25" y="302" width="10.97" height="2" fill="#4a8ccc"/>
<rect x="307.25" y="325" width="10.97" height="2" fill="#f8d5a0"/>
<rect x="307.25" y="330" width="10.97" height="1" fill="#d3cfcb"/>
<rect x="307.25" y="339" width="10.97" height="1" fill="#ffffff"/>
<rect x="307.25" y="342" width="10.97" height="1" fill="#ffffff"/>
<rect x="318.22" y="129" width="10.97" height="1" fill="#f2b454"/>
<rect x="318.22" y="274" width="10.97" height="1" fill="#f8d5a0"/>
<rect x="318.22" y="327" width="10.97" height="1" fill="#ffffff"/>
<rect x="318.22" y="367" width="10.97" height="2" fill="#f8d5a0"/>
<rect x="318.22" y="373" width="10.97" height="2" fill="#f8d5a0"/>
<rect x="318.22" y="405" width="10.97" height="1" fill="#ffffff"/>
<rect x="329.19" y="145" width="10.97" height="2" fill="#f2b454"/>
<rect x="329.19" y="199" width="10.97" height="2" fill="#ffffff"/>
<rect x="329.19" y="379" width="10.97" height="1" fill="#ffffff"/>
<rect x="340.16" y="135" width="10.97" height="2" fill="#ffffff"/>
<rect x="340.16" y="165" width="10.97" height="2" fill="#c84e0e"/>
<rect x="340.16" y="167" width="10.97" height="1" fill="#cccbd2"/>
<rect x="340.16" y="180" width="10.97" height="1" fill="#ddd2c4"/>
<rect x="340.16" y="181" width="10.97" height="1" fill="#e08a30"/>
<rect x="340.16" y="245" width="10.97" height="2" fill="#ffffff"/>
<rect x="340.16" y="290" width="10.97" height="1" fill="#ffffff"/>
<rect x="340.16" y="353" width="10.97" height="2" fill="#ead5b4"/>
<rect x="340.16" y="411" width="10.97" height="1" fill="#ddd2c4"/>
<rect x="351.12" y="167" width="10.97" height="1" fill="#cccbd2"/>
<rect x="351.12" y="180" width="10.97" height="2" fill="#cccbd2"/>
<rect x="351.12" y="207" width="10.97" height="2" fill="#ffffff"/>
<rect x="351.12" y="209" width="10.97" height="3" fill="#6a9ed8"/>
<rect x="351.12" y="230" width="10.97" height="2" fill="#c2c8da"/>
<rect x="351.12" y="275" width="10.97" height="2" fill="#6a9ed8"/>
<rect x="351.12" y="278" width="10.97" height="1" fill="#b6c6de"/>
<rect x="351.12" y="279" width="10.97" height="2" fill="#6a9ed8"/>
<rect x="351.12" y="331" width="10.97" height="3" fill="#b6c6de"/>
<rect x="351.12" y="337" width="10.97" height="1" fill="#4a8ccc"/>
<rect x="351.12" y="340" width="10.97" height="2" fill="#cccbd2"/>
<rect x="351.12" y="345" width="10.97" height="1" fill="#08128a"/>
<rect x="351.12" y="347" width="10.97" height="1" fill="#d3cfcb"/>
<rect x="351.12" y="365" width="10.97" height="2" fill="#f8d5a0"/>
<rect x="362.09" y="212" width="10.97" height="2" fill="#ead5b4"/>
<rect x="362.09" y="287" width="10.97" height="1" fill="#ddd2c4"/>
<rect x="362.09" y="297" width="10.97" height="1" fill="#ddd2c4"/>
<rect x="362.09" y="307" width="10.97" height="1" fill="#ffffff"/>
<rect x="362.09" y="369" width="10.97" height="1" fill="#ffffff"/>
<rect x="373.06" y="272" width="10.97" height="2" fill="#f8d5a0"/>
<rect x="373.06" y="303" width="10.97" height="2" fill="#ddd2c4"/>
<rect x="373.06" y="369" width="10.97" height="1" fill="#ffffff"/>
<rect x="384.03" y="388" width="10.97" height="2" fill="#f8d5a0"/>
<rect x="384.03" y="391" width="10.97" height="2" fill="#f8d5a0"/>
<rect x="384.03" y="428" width="10.97" height="2" fill="#ffffff"/>
<rect x="44.0" y="346.02876712328765" width="10.96875" height="88.47123287671235" fill="#fff"/>
<rect x="384.03125" y="83.5" width="10.96875" height="300.03287671232874" fill="#fff"/>
<rect x="373.0625" y="83.5" width="10.96875" height="1.4424657534246577" fill="#fff"/>
<line x1="38.2" y1="434.5" x2="44.5" y2="434.5" stroke="#000" stroke-width="1"/>
<text x="31.8" y="438.80" text-anchor="end" font-size="10.8" fill="#000" textLength="17.98" lengthAdjust="spacingAndGlyphs">Oct</text>
<line x1="44.1" y1="404.5" x2="395" y2="404.5" stroke="#8c8c8c" stroke-width="1" stroke-opacity="0.6" stroke-dasharray="1.2 3.201"/>
<line x1="38.2" y1="404.5" x2="44.5" y2="404.5" stroke="#000" stroke-width="1"/>
<text x="31.8" y="408.80" text-anchor="end" font-size="10.8" fill="#000" textLength="20.3" lengthAdjust="spacingAndGlyphs">Nov</text>
<line x1="44.1" y1="377.5" x2="395" y2="377.5" stroke="#8c8c8c" stroke-width="1" stroke-opacity="0.6" stroke-dasharray="1.2 3.201"/>
<line x1="38.2" y1="377.5" x2="44.5" y2="377.5" stroke="#000" stroke-width="1"/>
<text x="31.8" y="381.80" text-anchor="end" font-size="10.8" fill="#000" textLength="20.12" lengthAdjust="spacingAndGlyphs">Dec</text>
<line x1="44.1" y1="347.5" x2="395" y2="347.5" stroke="#8c8c8c" stroke-width="1" stroke-opacity="0.6" stroke-dasharray="1.2 3.201"/>
<line x1="38.2" y1="347.5" x2="44.5" y2="347.5" stroke="#000" stroke-width="1"/>
<text x="31.8" y="351.80" text-anchor="end" font-size="10.8" fill="#000" textLength="16.03" lengthAdjust="spacingAndGlyphs">Jan</text>
<line x1="44.1" y1="318.5" x2="395" y2="318.5" stroke="#8c8c8c" stroke-width="1" stroke-opacity="0.6" stroke-dasharray="1.2 3.201"/>
<line x1="38.2" y1="318.5" x2="44.5" y2="318.5" stroke="#000" stroke-width="1"/>
<text x="31.8" y="322.50" text-anchor="end" font-size="10.8" fill="#000" textLength="18.41" lengthAdjust="spacingAndGlyphs">Feb</text>
<line x1="44.1" y1="288.5" x2="395" y2="288.5" stroke="#8c8c8c" stroke-width="1" stroke-opacity="0.6" stroke-dasharray="1.2 3.201"/>
<line x1="38.2" y1="288.5" x2="44.5" y2="288.5" stroke="#000" stroke-width="1"/>
<text x="31.8" y="292.80" text-anchor="end" font-size="10.8" fill="#000" textLength="19.62" lengthAdjust="spacingAndGlyphs">Mar</text>
<line x1="44.1" y1="259.5" x2="395" y2="259.5" stroke="#8c8c8c" stroke-width="1" stroke-opacity="0.6" stroke-dasharray="1.2 3.201"/>
<line x1="38.2" y1="259.5" x2="44.5" y2="259.5" stroke="#000" stroke-width="1"/>
<text x="31.8" y="263.80" text-anchor="end" font-size="10.8" fill="#000" textLength="17.99" lengthAdjust="spacingAndGlyphs">Apr</text>
<line x1="44.1" y1="230.5" x2="395" y2="230.5" stroke="#8c8c8c" stroke-width="1" stroke-opacity="0.6" stroke-dasharray="1.2 3.201"/>
<line x1="38.2" y1="230.5" x2="44.5" y2="230.5" stroke="#000" stroke-width="1"/>
<text x="31.8" y="233.80" text-anchor="end" font-size="10.8" fill="#000" textLength="21.5" lengthAdjust="spacingAndGlyphs">May</text>
<line x1="44.1" y1="200.5" x2="395" y2="200.5" stroke="#8c8c8c" stroke-width="1" stroke-opacity="0.6" stroke-dasharray="1.2 3.201"/>
<line x1="38.2" y1="200.5" x2="44.5" y2="200.5" stroke="#000" stroke-width="1"/>
<text x="31.8" y="204.10" text-anchor="end" font-size="10.8" fill="#000" textLength="16.25" lengthAdjust="spacingAndGlyphs">Jun</text>
<line x1="44.1" y1="171.5" x2="395" y2="171.5" stroke="#8c8c8c" stroke-width="1" stroke-opacity="0.6" stroke-dasharray="1.2 3.201"/>
<line x1="38.2" y1="171.5" x2="44.5" y2="171.5" stroke="#000" stroke-width="1"/>
<text x="31.8" y="175.30" text-anchor="end" font-size="10.8" fill="#000" textLength="12.55" lengthAdjust="spacingAndGlyphs">Jul</text>
<line x1="44.1" y1="141.5" x2="395" y2="141.5" stroke="#8c8c8c" stroke-width="1" stroke-opacity="0.6" stroke-dasharray="1.2 3.201"/>
<line x1="38.2" y1="141.5" x2="44.5" y2="141.5" stroke="#000" stroke-width="1"/>
<text x="31.8" y="145.10" text-anchor="end" font-size="10.8" fill="#000" textLength="20.31" lengthAdjust="spacingAndGlyphs">Aug</text>
<line x1="44.1" y1="112.5" x2="395" y2="112.5" stroke="#8c8c8c" stroke-width="1" stroke-opacity="0.6" stroke-dasharray="1.2 3.201"/>
<line x1="38.2" y1="112.5" x2="44.5" y2="112.5" stroke="#000" stroke-width="1"/>
<text x="31.8" y="116.20" text-anchor="end" font-size="10.8" fill="#000" textLength="19.6" lengthAdjust="spacingAndGlyphs">Sep</text>
<rect x="44.5" y="83.5" width="351" height="351" fill="none" stroke="#000" stroke-width="1"/>
<line x1="49.5" y1="434.5" x2="49.5" y2="439.5" stroke="#000" stroke-width="1"/>
<text transform="translate(53.58,474.8) rotate(-90)" font-size="10.8" fill="#000" textLength="27.27" lengthAdjust="spacingAndGlyphs">1995</text>
<line x1="60.5" y1="434.5" x2="60.5" y2="439.5" stroke="#000" stroke-width="1"/>
<text transform="translate(64.55,474.8) rotate(-90)" font-size="10.8" fill="#000" textLength="27.27" lengthAdjust="spacingAndGlyphs">1996</text>
<line x1="71.5" y1="434.5" x2="71.5" y2="439.5" stroke="#000" stroke-width="1"/>
<text transform="translate(75.52,474.8) rotate(-90)" font-size="10.8" fill="#000" textLength="27.27" lengthAdjust="spacingAndGlyphs">1997</text>
<line x1="82.5" y1="434.5" x2="82.5" y2="439.5" stroke="#000" stroke-width="1"/>
<text transform="translate(86.49,474.8) rotate(-90)" font-size="10.8" fill="#000" textLength="27.27" lengthAdjust="spacingAndGlyphs">1998</text>
<line x1="93.5" y1="434.5" x2="93.5" y2="439.5" stroke="#000" stroke-width="1"/>
<text transform="translate(97.46,474.8) rotate(-90)" font-size="10.8" fill="#000" textLength="27.27" lengthAdjust="spacingAndGlyphs">1999</text>
<line x1="104.5" y1="434.5" x2="104.5" y2="439.5" stroke="#000" stroke-width="1"/>
<text transform="translate(108.43,474.8) rotate(-90)" font-size="10.8" fill="#000" textLength="27.27" lengthAdjust="spacingAndGlyphs">2000</text>
<line x1="115.5" y1="434.5" x2="115.5" y2="439.5" stroke="#000" stroke-width="1"/>
<text transform="translate(119.40,474.8) rotate(-90)" font-size="10.8" fill="#000" textLength="27.27" lengthAdjust="spacingAndGlyphs">2001</text>
<line x1="126.5" y1="434.5" x2="126.5" y2="439.5" stroke="#000" stroke-width="1"/>
<text transform="translate(130.37,474.8) rotate(-90)" font-size="10.8" fill="#000" textLength="27.27" lengthAdjust="spacingAndGlyphs">2002</text>
<line x1="137.5" y1="434.5" x2="137.5" y2="439.5" stroke="#000" stroke-width="1"/>
<text transform="translate(141.33,474.8) rotate(-90)" font-size="10.8" fill="#000" textLength="27.27" lengthAdjust="spacingAndGlyphs">2003</text>
<line x1="148.5" y1="434.5" x2="148.5" y2="439.5" stroke="#000" stroke-width="1"/>
<text transform="translate(152.30,474.8) rotate(-90)" font-size="10.8" fill="#000" textLength="27.27" lengthAdjust="spacingAndGlyphs">2004</text>
<line x1="159.5" y1="434.5" x2="159.5" y2="439.5" stroke="#000" stroke-width="1"/>
<text transform="translate(163.27,474.8) rotate(-90)" font-size="10.8" fill="#000" textLength="27.27" lengthAdjust="spacingAndGlyphs">2005</text>
<line x1="170.5" y1="434.5" x2="170.5" y2="439.5" stroke="#000" stroke-width="1"/>
<text transform="translate(174.24,474.8) rotate(-90)" font-size="10.8" fill="#000" textLength="27.27" lengthAdjust="spacingAndGlyphs">2006</text>
<line x1="181.5" y1="434.5" x2="181.5" y2="439.5" stroke="#000" stroke-width="1"/>
<text transform="translate(185.21,474.8) rotate(-90)" font-size="10.8" fill="#000" textLength="27.27" lengthAdjust="spacingAndGlyphs">2007</text>
<line x1="192.5" y1="434.5" x2="192.5" y2="439.5" stroke="#000" stroke-width="1"/>
<text transform="translate(196.18,474.8) rotate(-90)" font-size="10.8" fill="#000" textLength="27.27" lengthAdjust="spacingAndGlyphs">2008</text>
<line x1="203.5" y1="434.5" x2="203.5" y2="439.5" stroke="#000" stroke-width="1"/>
<text transform="translate(207.15,474.8) rotate(-90)" font-size="10.8" fill="#000" textLength="27.27" lengthAdjust="spacingAndGlyphs">2009</text>
<line x1="214.5" y1="434.5" x2="214.5" y2="439.5" stroke="#000" stroke-width="1"/>
<text transform="translate(218.12,474.8) rotate(-90)" font-size="10.8" fill="#000" textLength="27.27" lengthAdjust="spacingAndGlyphs">2010</text>
<line x1="224.5" y1="434.5" x2="224.5" y2="439.5" stroke="#000" stroke-width="1"/>
<text transform="translate(229.08,474.8) rotate(-90)" font-size="10.8" fill="#000" textLength="27.27" lengthAdjust="spacingAndGlyphs">2011</text>
<line x1="235.5" y1="434.5" x2="235.5" y2="439.5" stroke="#000" stroke-width="1"/>
<text transform="translate(240.05,474.8) rotate(-90)" font-size="10.8" fill="#000" textLength="27.27" lengthAdjust="spacingAndGlyphs">2012</text>
<line x1="246.5" y1="434.5" x2="246.5" y2="439.5" stroke="#000" stroke-width="1"/>
<text transform="translate(251.02,474.8) rotate(-90)" font-size="10.8" fill="#000" textLength="27.27" lengthAdjust="spacingAndGlyphs">2013</text>
<line x1="257.5" y1="434.5" x2="257.5" y2="439.5" stroke="#000" stroke-width="1"/>
<text transform="translate(261.99,474.8) rotate(-90)" font-size="10.8" fill="#000" textLength="27.27" lengthAdjust="spacingAndGlyphs">2014</text>
<line x1="268.5" y1="434.5" x2="268.5" y2="439.5" stroke="#000" stroke-width="1"/>
<text transform="translate(272.96,474.8) rotate(-90)" font-size="10.8" fill="#000" textLength="27.27" lengthAdjust="spacingAndGlyphs">2015</text>
<line x1="279.5" y1="434.5" x2="279.5" y2="439.5" stroke="#000" stroke-width="1"/>
<text transform="translate(283.93,474.8) rotate(-90)" font-size="10.8" fill="#000" textLength="27.27" lengthAdjust="spacingAndGlyphs">2016</text>
<line x1="290.5" y1="434.5" x2="290.5" y2="439.5" stroke="#000" stroke-width="1"/>
<text transform="translate(294.90,474.8) rotate(-90)" font-size="10.8" fill="#000" textLength="27.27" lengthAdjust="spacingAndGlyphs">2017</text>
<line x1="301.5" y1="434.5" x2="301.5" y2="439.5" stroke="#000" stroke-width="1"/>
<text transform="translate(305.87,474.8) rotate(-90)" font-size="10.8" fill="#000" textLength="27.27" lengthAdjust="spacingAndGlyphs">2018</text>
<line x1="312.5" y1="434.5" x2="312.5" y2="439.5" stroke="#000" stroke-width="1"/>
<text transform="translate(316.83,474.8) rotate(-90)" font-size="10.8" fill="#000" textLength="27.27" lengthAdjust="spacingAndGlyphs">2019</text>
<line x1="323.5" y1="434.5" x2="323.5" y2="439.5" stroke="#000" stroke-width="1"/>
<text transform="translate(327.80,474.8) rotate(-90)" font-size="10.8" fill="#000" textLength="27.27" lengthAdjust="spacingAndGlyphs">2020</text>
<line x1="334.5" y1="434.5" x2="334.5" y2="439.5" stroke="#000" stroke-width="1"/>
<text transform="translate(338.77,474.8) rotate(-90)" font-size="10.8" fill="#000" textLength="27.27" lengthAdjust="spacingAndGlyphs">2021</text>
<line x1="345.5" y1="434.5" x2="345.5" y2="439.5" stroke="#000" stroke-width="1"/>
<text transform="translate(349.74,474.8) rotate(-90)" font-size="10.8" fill="#000" textLength="27.27" lengthAdjust="spacingAndGlyphs">2022</text>
<line x1="356.5" y1="434.5" x2="356.5" y2="439.5" stroke="#000" stroke-width="1"/>
<text transform="translate(360.71,474.8) rotate(-90)" font-size="10.8" fill="#000" textLength="27.27" lengthAdjust="spacingAndGlyphs">2023</text>
<line x1="367.5" y1="434.5" x2="367.5" y2="439.5" stroke="#000" stroke-width="1"/>
<text transform="translate(371.68,474.8) rotate(-90)" font-size="10.8" fill="#000" textLength="27.27" lengthAdjust="spacingAndGlyphs">2024</text>
<line x1="378.5" y1="434.5" x2="378.5" y2="439.5" stroke="#000" stroke-width="1"/>
<text transform="translate(382.65,474.8) rotate(-90)" font-size="10.8" fill="#000" textLength="27.27" lengthAdjust="spacingAndGlyphs">2025</text>
<line x1="389.5" y1="434.5" x2="389.5" y2="439.5" stroke="#000" stroke-width="1"/>
<text transform="translate(393.62,474.8) rotate(-90)" font-size="10.8" fill="#000" textLength="27.27" lengthAdjust="spacingAndGlyphs">2026</text>
<rect x="403.5" y="83.5" width="18.0" height="351.0" fill="url(#cb)" stroke="#000" stroke-width="1"/>
<line x1="421.5" y1="83.5" x2="426.5" y2="83.5" stroke="#000" stroke-width="1"/>
<text x="437.2" y="87.8" font-size="10.8" fill="#000" textLength="48.41" lengthAdjust="spacingAndGlyphs">&gt; 27.512</text>
<line x1="421.5" y1="107.5" x2="426.5" y2="107.5" stroke="#000" stroke-width="1"/>
<text x="437.2" y="112.28111950244333" font-size="10.8" fill="#000" textLength="13.23" lengthAdjust="spacingAndGlyphs">25</text>
<line x1="421.5" y1="156.5" x2="426.5" y2="156.5" stroke="#000" stroke-width="1"/>
<text x="437.2" y="161.0094624611284" font-size="10.8" fill="#000" textLength="13.23" lengthAdjust="spacingAndGlyphs">20</text>
<line x1="421.5" y1="205.5" x2="426.5" y2="205.5" stroke="#000" stroke-width="1"/>
<text x="437.2" y="209.73780541981344" font-size="10.8" fill="#000" textLength="13.23" lengthAdjust="spacingAndGlyphs">15</text>
<line x1="421.5" y1="254.5" x2="426.5" y2="254.5" stroke="#000" stroke-width="1"/>
<text x="437.2" y="258.4661483784985" font-size="10.8" fill="#000" textLength="13.23" lengthAdjust="spacingAndGlyphs">10</text>
<line x1="421.5" y1="302.5" x2="426.5" y2="302.5" stroke="#000" stroke-width="1"/>
<text x="437.2" y="307.1944913371835" font-size="10.8" fill="#000" textLength="6.62" lengthAdjust="spacingAndGlyphs">5</text>
<line x1="421.5" y1="351.5" x2="426.5" y2="351.5" stroke="#000" stroke-width="1"/>
<text x="437.2" y="355.92283429586854" font-size="10.8" fill="#000" textLength="6.62" lengthAdjust="spacingAndGlyphs">0</text>
<line x1="421.5" y1="400.5" x2="426.5" y2="400.5" stroke="#000" stroke-width="1"/>
<text x="433.6" y="404.65117725455355" font-size="10.8" fill="#000" textLength="10.37" lengthAdjust="spacingAndGlyphs">-5</text>
<line x1="421.5" y1="434.5" x2="426.5" y2="434.5" stroke="#000" stroke-width="1"/>
<text x="437.2" y="438.8" font-size="10.8" fill="#000" textLength="45.55" lengthAdjust="spacingAndGlyphs">&lt; -8.504</text>
<text x="5" y="489" font-size="11.4" fill="#3b4b50" textLength="208" lengthAdjust="spacingAndGlyphs">www.cbr.washington.edu/sacramento/</text>
<text x="351" y="489" font-size="11.4" fill="#3b4b50" textLength="144" lengthAdjust="spacingAndGlyphs">23 Nov 2025 15:48:55 PST</text>
</svg></body></html>
